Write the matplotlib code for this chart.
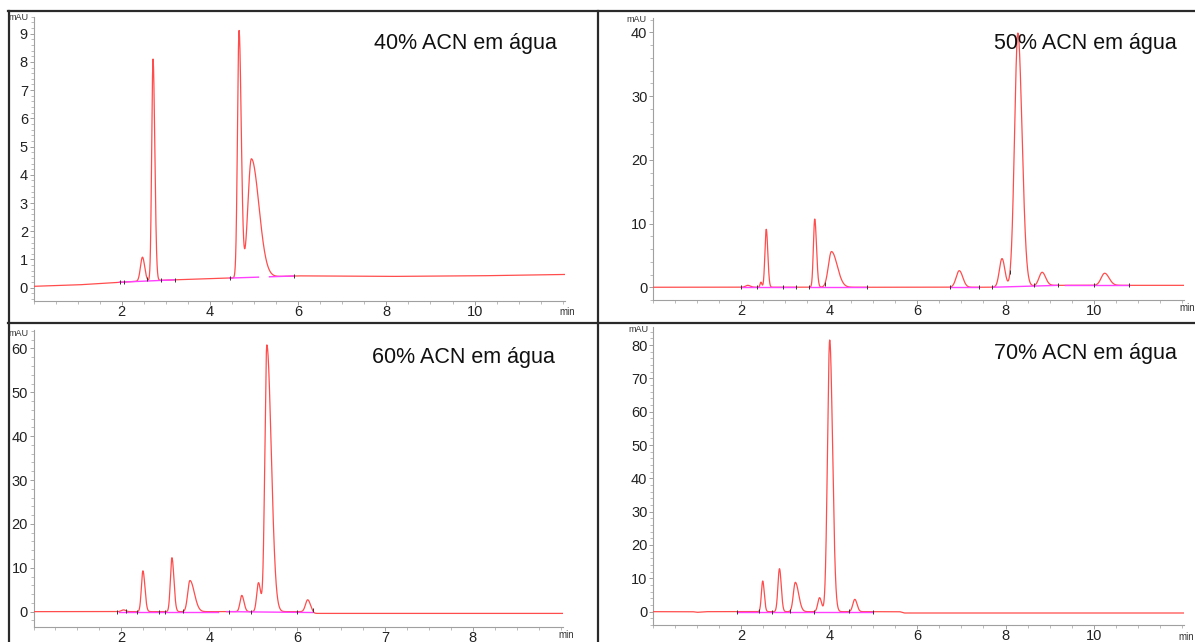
import numpy as np
import matplotlib
matplotlib.use("Agg")
import matplotlib.pyplot as plt
from matplotlib.lines import Line2D
from matplotlib.ticker import MultipleLocator, AutoMinorLocator, FixedLocator, FixedFormatter

plt.rcParams['font.family'] = ['Liberation Sans', 'DejaVu Sans']

W, H = 1195, 642

# ---------------- data (peak tables) ----------------
titles = ["40% ACN em água", "50% ACN em água", "60% ACN em água", "70% ACN em água"]

# 40% ACN
rt40 = [2.47, 2.71, 4.66, 4.94]
h40 = [0.85, 7.85, 8.75, 4.2]
sl40 = [0.045, 0.03, 0.035, 0.08]
sr40 = [0.05, 0.04, 0.05, 0.17]
bt40 = [0.0, 1.0, 2.0, 3.0, 4.0, 5.0, 6.0, 8.0, 10.0, 12.05]
bv40 = [0.05, 0.1, 0.2, 0.27, 0.32, 0.37, 0.42, 0.4, 0.42, 0.47]
seg40 = [(1.95, 3.2), (4.45, 5.1), (5.35, 5.9)]
mk40 = [1.95, 2.05, 2.58, 2.9, 3.2, 4.45, 5.9]

# 50% ACN
rt50 = [2.15, 2.45, 2.57, 3.67, 4.05, 6.95, 7.92, 8.28, 8.83, 10.25]
h50 = [0.3, 0.8, 9.1, 10.7, 5.6, 2.6, 4.5, 39.8, 2.1, 1.9]
sl50 = [0.05, 0.02, 0.03, 0.03, 0.07, 0.07, 0.06, 0.075, 0.07, 0.08]
sr50 = [0.06, 0.02, 0.035, 0.04, 0.13, 0.08, 0.065, 0.095, 0.08, 0.1]
bt50 = [0.0, 8.0, 9.0, 12.05]
bv50 = [0.0, 0.0, 0.3, 0.3]
seg50 = [(2.0, 3.25), (3.55, 4.85), (6.75, 7.4), (7.7, 9.2), (9.35, 10.8)]
mk50 = [2.0, 2.35, 2.95, 3.25, 3.55, 3.9, 4.85, 6.75, 7.4, 7.7, 8.1, 8.65, 9.2, 10.0, 10.8]

# 60% ACN (tick labels as printed on the original axis)
rt60 = [2.05, 2.49, 3.15, 3.56, 4.74, 5.12, 5.31, 6.24]
h60 = [0.4, 9.3, 12.3, 7.1, 3.7, 6.6, 60.8, 2.7]
sl60 = [0.05, 0.035, 0.035, 0.05, 0.04, 0.04, 0.045, 0.05]
sr60 = [0.05, 0.045, 0.045, 0.1, 0.05, 0.05, 0.1, 0.06]
bt60 = [0.0, 6.3, 6.4, 12.05]
bv60 = [0.0, 0.0, -0.4, -0.4]
seg60 = [(1.95, 4.2), (4.4, 6.35)]
mk60 = [1.9, 2.1, 2.35, 2.85, 3.0, 3.4, 4.45, 4.95, 6.0, 6.35]

xtick_pos = [2, 4, 6, 8, 10]
xtick_lab = [["2", "4", "6", "8", "10"], ["2", "4", "6", "8", "10"],
             ["2", "4", "6", "7", "8"], ["2", "4", "6", "8", "10"]]

# 70% ACN
rt70 = [2.49, 2.87, 3.23, 3.78, 4.01, 4.58]
h70 = [9.2, 12.9, 8.8, 4.2, 81.5, 3.7]
sl70 = [0.03, 0.035, 0.045, 0.04, 0.05, 0.045]
sr70 = [0.035, 0.04, 0.075, 0.045, 0.065, 0.05]
bt70 = [0.0, 0.9, 1.0, 1.2, 5.6, 5.7, 12.05]
bv70 = [0.0, 0.0, -0.2, 0.0, 0.0, -0.4, -0.4]
seg70 = [(1.9, 5.0)]
mk70 = [1.9, 2.4, 2.7, 3.1, 3.65, 4.45, 5.0]

yticks_major = [1, 10, 10, 10]
ylims = [(-0.47, 9.6), (-2.0, 42.2), (-3.5, 64.2), (-4.0, 85.4)]

# axes boxes in pixels: x0, x1, ytop, ybottom
boxes = [(33.5, 565, 16.7, 301), (653, 1184, 18.3, 300),
         (33.5, 563, 330, 627), (653, 1184, 327, 625)]
title_pos = [(557, 49), (1177, 49), (555, 362.7), (1177, 359.3)]
mau_pos = [(8, 17), (626, 19), (8, 334), (628, 329)]
min_pos = [(567, 312), (1187, 308), (566, 635), (1186, 637)]

panels = [
    (rt40, h40, sl40, sr40, bt40, bv40, seg40, mk40),
    (rt50, h50, sl50, sr50, bt50, bv50, seg50, mk50),
    (rt60, h60, sl60, sr60, bt60, bv60, seg60, mk60),
    (rt70, h70, sl70, sr70, bt70, bv70, seg70, mk70),
]

fig = plt.figure(figsize=(W / 100, H / 100), dpi=100)

t = np.linspace(0, 12.05, 6000)


def trace(rts, hs, sls, srs, bts, bvs):
    y = np.interp(t, bts, bvs)
    for r, h, a, b in zip(rts, hs, sls, srs):
        s = np.where(t < r, a, b)
        y = y + h * np.exp(-0.5 * ((t - r) / s) ** 2)
    return y


for i, (rts, hs, sls, srs, bts, bvs, segs, mks) in enumerate(panels):
    x0, x1, yt, yb = boxes[i]
    ax = fig.add_axes([x0 / W, 1 - yb / H, (x1 - x0) / W, (yb - yt) / H])
    y = trace(rts, hs, sls, srs, bts, bvs)
    ax.plot(t, y, color='#ff4d4d', lw=0.9, zorder=3)
    for a, b in segs:
        ya, yb2 = np.interp([a, b], bts, bvs)
        ax.plot([a, b], [ya, yb2], color='#ff40ff', lw=1.0, zorder=4)
    mky = np.interp(mks, t, y)
    ax.plot(mks, mky, linestyle='none', marker='|', markersize=3, color='#333333',
            markeredgewidth=0.7, zorder=5)

    ax.set_xlim(0, 12.05)
    ax.set_ylim(*ylims[i])
    for s in ['top', 'right']:
        ax.spines[s].set_visible(False)
    for s in ['left', 'bottom']:
        ax.spines[s].set_color('#a0a0a0')
        ax.spines[s].set_linewidth(0.8)
    ax.yaxis.set_major_locator(MultipleLocator(yticks_major[i]))
    ax.yaxis.set_minor_locator(AutoMinorLocator(5))
    ax.xaxis.set_major_locator(FixedLocator(xtick_pos))
    ax.xaxis.set_major_formatter(FixedFormatter(xtick_lab[i]))
    ax.xaxis.set_minor_locator(MultipleLocator(0.5))
    ax.tick_params(axis='both', which='major', direction='out', length=3, width=0.7,
                   color='#a0a0a0', labelsize=10.5, labelcolor='#222222', pad=1)
    ax.tick_params(axis='x', which='major', pad=0)
    ax.tick_params(axis='both', which='minor', direction='out', length=2, width=0.6,
                   color='#b0b0b0')
    ax.set_facecolor('none')

    tx, ty = title_pos[i]
    fig.text(tx / W, 1 - ty / H, titles[i], ha='right', va='baseline',
             fontsize=15.5, color='#111111')
    mx, my = mau_pos[i]
    fig.text(mx / W, 1 - my / H, "mAU", ha='left', va='center', fontsize=6.5,
             color='#333333')
    nx, ny = min_pos[i]
    fig.text(nx / W, 1 - ny / H, "min", ha='center', va='center', fontsize=7,
             color='#333333')

# panel frame lines
frame_col = '#2a2a2a'
fig.add_artist(Line2D([8 / W, 1.0], [1 - 10.5 / H] * 2, color=frame_col, lw=1.6))
fig.add_artist(Line2D([8 / W, 1.0], [1 - 323 / H] * 2, color=frame_col, lw=1.6))
fig.add_artist(Line2D([8.5 / W] * 2, [1 - 10.5 / H, 0], color=frame_col, lw=1.6))
fig.add_artist(Line2D([598 / W] * 2, [1 - 10.5 / H, 0], color=frame_col, lw=1.6))

fig.savefig("out.png", dpi=100, facecolor='white')
